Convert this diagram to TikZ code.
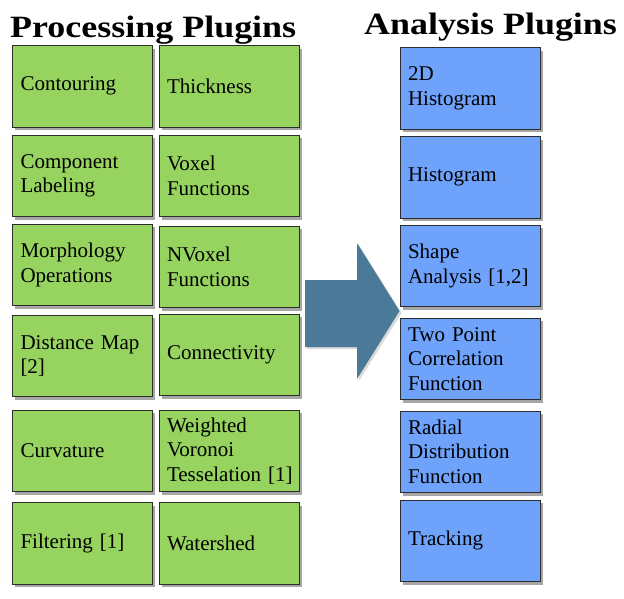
\documentclass[tikz,border=0pt]{standalone}
\usepackage{fontspec}
\setmainfont{Liberation Serif}
\newfontfamily\ttlfont[FakeStretch=1.16]{Liberation Serif}
\newfontfamily\bodyfont[WordSpace=0.75]{Liberation Serif}
\usetikzlibrary{shadows}
\definecolor{pgreen}{RGB}{150,211,95}
\definecolor{ablue}{RGB}{111,162,250}
\definecolor{arrowc}{RGB}{74,122,152}
\definecolor{edgec}{RGB}{45,45,45}
\tikzset{
  plug/.style={draw=edgec, line width=1pt, anchor=north west,
    minimum width=140pt, minimum height=81.5pt, text width=124pt,
    inner xsep=8pt, inner ysep=2pt, align=left,
    font=\bodyfont\fontsize{21}{24.5}\selectfont,
    drop shadow={shadow xshift=2.5pt, shadow yshift=-3pt, fill=black, opacity=0.35}},
  pbox/.style={plug, fill=pgreen},
  abox/.style={plug, fill=ablue},
  ttl/.style={font=\ttlfont\fontsize{31}{34}\selectfont\bfseries, anchor=base west, inner sep=0pt}
}
\begin{document}
\begin{tikzpicture}[x=1pt,y=-1pt]
\path[use as bounding box, fill=white] (0,0) rectangle (624,598);
\node[ttl] (t1) at (10,37) {Processing Plugins};
\node[ttl] (t2) at (364,34) {Analysis Plugins};
% processing plugins
\node[pbox] (p1)  at (12,45)    {Contouring};
\node[pbox] (p2)  at (158.5,45) {Thickness};
\node[pbox] (p3)  at (12,134.5) {Component\\Labeling};
\node[pbox] (p4)  at (158.5,134.5) {Voxel\\Functions};
\node[pbox] (p5)  at (12,223.5) {Morphology\\Operations};
\node[pbox] (p6)  at (158.5,225.5) {NVoxel\\Functions};
\node[pbox] (p7)  at (12,314.5) {Distance~Map\\{}[2]};
\node[pbox] (p8)  at (158.5,313.5) {Connectivity};
\node[pbox] (p9)  at (12,409.5) {Curvature};
\node[pbox] (p10) at (158.5,409.5) {Weighted\\Voronoi\\Tesselation~[1]};
\node[pbox] (p11) at (12,502) {Filtering~[1]};
\node[pbox] (p12) at (158.5,502) {Watershed};
% analysis plugins
\node[abox] (a1) at (399.5,47)    {2D\\Histogram};
\node[abox] (a2) at (399.5,136)   {Histogram};
\node[abox] (a3) at (399.5,224.5) {Shape\\Analysis~[1,2]};
\node[abox] (a4) at (399.5,317.5) {Two~Point\\Correlation\\Function};
\node[abox] (a5) at (399.5,410.5) {Radial\\Distribution\\Function};
\node[abox] (a6) at (399.5,499.5) {Tracking};
% big arrow
\fill[arrowc, drop shadow={shadow xshift=2pt, shadow yshift=-2pt, fill=black, opacity=0.15}]
  (305,280) -- (357,280) -- (357,243) -- (399.5,311) -- (357,379) -- (357,347) -- (305,347) -- cycle;
\end{tikzpicture}
\end{document}
